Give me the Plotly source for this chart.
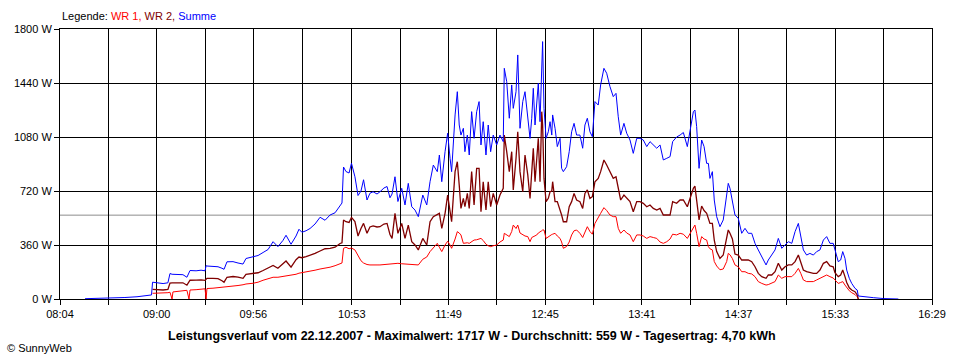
import plotly.graph_objects as go

# ---- data ----
# time in minutes since midnight
time_min = [
    498.5, 507.2, 515.9, 521.6, 528.6, 533.2, 537.0, 537.6, 540.8, 543.7,
    546.5, 547.7, 548.9, 549.4, 552.3, 555.2, 557.5, 558.7, 559.3, 562.8,
    565.7, 568.0, 568.6, 569.1, 572.6, 575.5, 577.8, 579.0, 580.7, 584.2,
    587.1, 590.0, 591.7, 595.8, 598.7, 601.6, 604.5, 607.4, 610.2, 613.1,
    614.9, 617.8, 620.7, 622.4, 624.1, 626.5, 628.8, 631.7, 634.6, 637.5,
    640.4, 643.3, 646.2, 647.3, 648.2, 649.6, 651.4, 652.8, 654.8, 656.6,
    658.3, 659.8, 661.8, 663.5, 665.3, 667.6, 669.3, 671.6, 673.4, 675.1,
    676.3, 678.0, 679.7, 681.9, 683.8, 685.7, 687.7, 689.6, 691.5, 694.1,
    696.4, 698.3, 700.2, 702.5, 703.7, 705.1, 707.0, 708.5, 709.9, 710.8,
    712.8, 714.1, 715.2, 716.2, 717.6, 718.5, 719.9, 721.0, 722.4, 723.8,
    725.3, 726.7, 727.8, 729.1, 730.7, 732.0, 733.4, 734.9, 736.9, 738.8,
    740.7, 741.3, 742.7, 744.2, 745.6, 746.5, 748.1, 749.1, 750.4, 752.0,
    753.3, 754.9, 756.2, 757.2, 758.1, 759.1, 760.1, 761.0, 762.0, 763.0,
    763.5, 764.3, 765.5, 766.8, 767.8, 768.8, 769.3, 770.7, 772.0, 773.6,
    774.5, 775.5, 777.4, 778.9, 780.3, 781.7, 783.2, 785.1, 786.7, 788.0,
    789.4, 790.9, 792.3, 793.8, 795.7, 797.1, 799.0, 800.6, 802.5, 804.4,
    806.0, 807.3, 808.7, 810.6, 812.2, 814.1, 816.0, 818.0, 819.9, 821.8,
    823.8, 825.7, 827.6, 829.6, 831.5, 833.4, 835.4, 837.3, 838.8, 841.1,
    843.1, 845.0, 847.3, 848.8, 850.8, 851.7, 852.7, 854.1, 855.6, 857.0,
    858.5, 859.5, 860.4, 861.8, 862.9, 864.3, 866.2, 868.1, 870.1, 871.0,
    872.0, 873.4, 874.9, 876.8, 878.8, 880.7, 882.6, 884.6, 886.5, 888.4,
    890.4, 892.9, 894.2, 896.2, 898.1, 900.0, 902.0, 903.9, 905.8, 907.8,
    909.7, 911.6, 913.0, 914.5, 916.4, 918.3, 920.3, 922.2, 924.1, 926.1,
    928.0, 929.9, 931.8, 932.8, 934.7, 936.1, 937.3, 938.6, 939.6, 941.1,
    942.5, 944.4, 945.7, 946.3, 949.2, 955.0, 960.8, 969.5,
]

summe = [
    2, 4, 8, 10, 15, 20, 27, 112, 106, 103,
    108, 170, 165, 165, 160, 162, 145, 185, 190, 188,
    192, 188, 222, 220, 218, 215, 205, 198, 248, 249,
    240, 233, 270, 282, 290, 310, 330, 382, 349, 390,
    425, 365, 420, 465, 445, 455, 470, 500, 545, 525,
    560, 575, 625, 640, 880, 850, 840, 905, 815, 690,
    720, 795, 660, 705, 715, 700, 715, 740, 750, 675,
    700, 815, 650, 738, 627, 771, 615, 593, 549, 693,
    627, 782, 893, 849, 960, 782, 982, 1105, 938, 849,
    1227, 1382, 1160, 1093, 1138, 982, 1093, 960, 1249, 1071,
    1249, 1316, 1027, 1182, 960, 1160, 982, 1093, 1027, 1093,
    1049, 1538, 1449, 1205, 1427, 1271, 1382, 1627, 1138, 1316,
    1382, 1205, 1071, 1205, 1405, 1160, 1293, 1438, 1182, 1560,
    1716, 1271, 1071, 1115, 1182, 1093, 1227, 1138, 1016, 1071,
    871, 849, 882, 982, 1115, 1171, 1093, 1093, 1005, 1160,
    1205, 1115, 1082, 1316, 1293, 1427, 1538, 1505, 1416, 1349,
    1371, 1215, 1093, 1171, 1105, 1060, 971, 1071, 1071, 1060,
    1016, 1049, 1027, 1005, 1027, 927, 938, 949, 1049, 1080,
    1093, 1110, 1016, 1115, 1249, 1260, 1149, 871, 1060, 1016,
    904, 904, 804, 849, 660, 549, 482, 527, 682, 771,
    738, 638, 560, 538, 438, 471, 438, 438, 371, 327,
    282, 227, 260, 293, 327, 404, 338, 360, 382, 371,
    449, 504, 416, 327, 293, 304, 293, 316, 327, 393,
    416, 371, 371, 327, 249, 260, 316, 271, 193, 138,
    104, 71, 60, 20, 15, 9, 3, 0,
]

wr2 = [
    None, None, None, None, None, None, None, 64, 62, 60,
    64, 106, 108, 108, 110, 108, 92, 120, 125, 126,
    128, 124, 135, 138, 138, 136, 122, 112, 145, 150,
    146, 138, 165, 171, 175, 190, 205, 224, 205, 235,
    253, 212, 262, 280, 275, 282, 290, 304, 320, 335,
    338, 345, 370, 375, 527, 515, 510, 544, 516, 420,
    470, 504, 438, 480, 487, 480, 482, 500, 504, 430,
    404, 571, 438, 504, 404, 493, 382, 360, 327, 404,
    360, 515, 549, 560, 571, 471, 571, 693, 560, 515,
    849, 915, 760, 604, 671, 615, 704, 604, 849, 627,
    871, 871, 582, 782, 593, 782, 615, 704, 627, 693,
    738, 1093, 982, 849, 982, 727, 938, 1115, 849, 715,
    960, 827, 671, 871, 1005, 782, 960, 1071, 782, 1249,
    1160, 804, 649, 671, 715, 720, 782, 649, 649, 600,
    560, 515, 515, 615, 649, 704, 660, 649, 604, 704,
    727, 671, 682, 782, 804, 849, 927, 893, 849, 804,
    815, 738, 660, 693, 671, 649, 582, 649, 649, 638,
    615, 627, 604, 593, 604, 560, 560, 560, 649, 638,
    660, 660, 615, 671, 738, 753, 660, 527, 620, 590,
    571, 527, 504, 504, 393, 316, 271, 293, 393, 460,
    438, 400, 300, 293, 260, 260, 260, 249, 215, 171,
    149, 138, 160, 160, 182, 238, 193, 215, 227, 227,
    249, 293, 249, 193, 182, 176, 171, 171, 193, 238,
    249, 220, 215, 175, 149, 160, 193, 149, 110, 75,
    60, 49, 27, 0, None, None, None, None,
]

wr1 = [
    None, None, None, None, None, None, None, 38, 38, 40,
    42, 45, 0, 47, 50, 55, 58, 0, 60, 62,
    65, 68, 0, 70, 72, 75, 78, 78, 84, 87,
    90, 95, 100, 105, 112, 125, 135, 145, 145, 150,
    156, 158, 165, 172, 175, 180, 185, 192, 200, 205,
    212, 222, 235, 240, 338, 345, 335, 340, 327, 285,
    255, 240, 230, 227, 225, 227, 227, 230, 232, 230,
    232, 238, 238, 235, 233, 230, 228, 227, 227, 265,
    280, 316, 340, 371, 345, 316, 360, 385, 360, 338,
    400, 449, 440, 427, 371, 372, 375, 371, 385, 393,
    395, 400, 404, 390, 365, 355, 349, 355, 360, 380,
    393, 438, 430, 416, 450, 493, 470, 493, 440, 427,
    420, 416, 382, 410, 415, 420, 427, 440, 445, 455,
    460, 460, 404, 415, 427, 430, 432, 438, 420, 404,
    380, 338, 350, 380, 427, 455, 460, 438, 410, 440,
    482, 450, 432, 504, 538, 571, 609, 590, 560, 549,
    549, 471, 438, 460, 440, 427, 382, 427, 427, 420,
    404, 416, 410, 404, 380, 371, 382, 400, 432, 427,
    438, 432, 404, 438, 482, 493, 438, 349, 416, 400,
    393, 349, 335, 327, 250, 220, 195, 200, 250, 304,
    295, 270, 227, 215, 182, 182, 171, 167, 149, 116,
    104, 93, 96, 104, 116, 160, 138, 149, 149, 149,
    171, 204, 171, 127, 116, 116, 116, 127, 138, 149,
    160, 149, 140, 127, 104, 110, 116, 93, 75, 55,
    42, 30, 15, 0, None, None, None, None,
]

x_tick_labels = ["08:04", "09:00", "09:56", "10:53", "11:49",
                 "12:45", "13:41", "14:37", "15:33", "16:29"]
y_tick_values = [0, 360, 720, 1080, 1440, 1800]
average_w = 559
title_text = ("Leistungsverlauf vom 22.12.2007 - Maximalwert: 1717 W - "
              "Durchschnitt: 559 W - Tagesertrag: 4,70 kWh")

FONT = "Liberation Sans, Arial, sans-serif"


def hm_to_min(s):
    h, m = s.split(":")
    return int(h) * 60 + int(m)


major = [hm_to_min(s) for s in x_tick_labels]
tickvals, ticktext = [], []
for i, v in enumerate(major):
    tickvals.append(v)
    ticktext.append(x_tick_labels[i])
    if i < len(major) - 1:
        tickvals.append((v + major[i + 1]) / 2)
        ticktext.append("")

fig = go.Figure()
fig.add_trace(go.Scatter(x=time_min, y=wr1, mode="lines", name="WR 1",
                         line=dict(color="#FF0000", width=1)))
fig.add_trace(go.Scatter(x=time_min, y=wr2, mode="lines", name="WR 2",
                         line=dict(color="#800000", width=1.3)))
fig.add_trace(go.Scatter(x=time_min, y=summe, mode="lines", name="Summe",
                         line=dict(color="#0000FF", width=1)))

axis_common = dict(
    showgrid=True, gridcolor="black", gridwidth=1,
    showline=True, linecolor="black", linewidth=1, mirror=True,
    ticks="outside", ticklen=5, tickcolor="black", tickwidth=1,
    tickfont=dict(family=FONT, size=11, color="black"),
    zeroline=False, fixedrange=True,
)

fig.update_layout(
    width=960, height=360, autosize=False,
    margin=dict(l=60, r=28, t=29, b=61, pad=0),
    paper_bgcolor="white", plot_bgcolor="white",
    showlegend=False,
    font=dict(family=FONT, size=11, color="black"),
    xaxis=dict(range=[major[0], major[-1]], tickvals=tickvals,
               ticktext=ticktext, **axis_common),
    yaxis=dict(range=[0, 1800], tickvals=y_tick_values,
               ticktext=[f"{v} W" for v in y_tick_values], **axis_common),
    shapes=[dict(type="line", xref="paper", x0=0, x1=1, yref="y",
                 y0=average_w, y1=average_w, layer="below",
                 line=dict(color="#8C8C8C", width=1))],
    annotations=[
        dict(xref="paper", yref="paper", x=0.0, y=1.048, xanchor="left",
             yanchor="middle", showarrow=False,
             text=("Legende: <span style='color:#FF0000'>WR 1,</span> "
                   "<span style='color:#800000'>WR 2,</span> "
                   "<span style='color:#0000FF'>Summe</span>"),
             font=dict(family=FONT, size=11, color="black")),
        dict(xref="paper", yref="paper", x=0.4725, y=-0.137, xanchor="center",
             yanchor="middle", showarrow=False, text=f"<b>{title_text}</b>",
             font=dict(family=FONT, size=12.5, color="black")),
        dict(xref="paper", yref="paper", x=-0.063, y=-0.181, xanchor="left",
             yanchor="middle", showarrow=False, text="© SunnyWeb",
             font=dict(family=FONT, size=11, color="black")),
    ],
)

fig.write_html(
    "out.html",
    config={"displayModeBar": False},
    post_script=("document.body.style.margin='0';"
                 "document.body.style.padding='0';"
                 "document.body.style.overflow='hidden';"),
)
